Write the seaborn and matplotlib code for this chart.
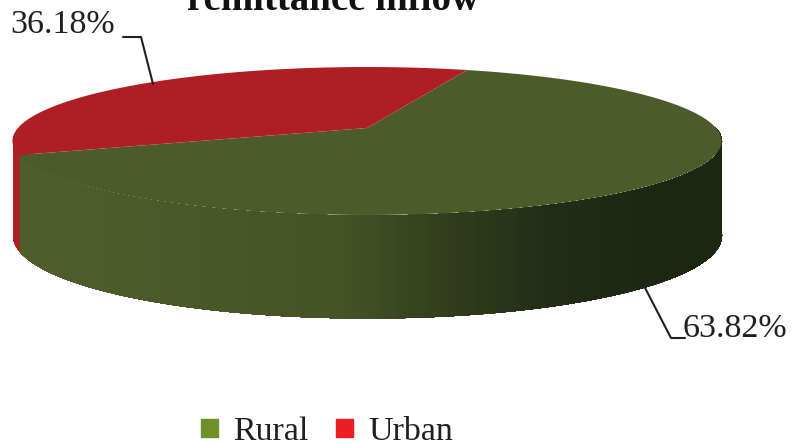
import numpy as np
import seaborn as sns
from matplotlib import pyplot as plt
from matplotlib.patches import Patch

categories = ['Rural', 'Urban']
shares = [63.82, 36.18]
share_labels = ['63.82%', '36.18%']
title = 'remittance inflow'

top_colors = ['#4B5C2A', '#AE1E24']
side_red = '#B01E26'
side_greens = ['#4D5E2B', '#4B5B2A', '#485727', '#445226', '#323C1C', '#222C16', '#1C2712']
legend_colors = ['#6F8F2A', '#EE1C25']

sns.set_theme(style='white')
plt.rcParams['font.family'] = ['Liberation Serif', 'DejaVu Serif']

# pie geometry on screen, pixels
CX, CY = 367, 141
AX_R = 349
K = 0.1757
B = 71.7
APEX = 13


def project(x, y):
    # perspective view of the flat unit pie
    w = 1 + K * y
    return CX + AX_R * x / w, CY - APEX - B * y / w


def wall(theta):
    # side wall between top rim and bottom rim
    t = np.radians(theta)
    x, y = project(np.cos(t), np.sin(t))
    return x, y, y + 92 - 11 * np.sin(t)


fig, ax = plt.subplots(figsize=(8, 4.44), dpi=100)
fig.subplots_adjust(left=0, right=1, bottom=0, top=1)

wedges, _ = ax.pie(shares, startangle=200.7, counterclock=True, colors=top_colors)

# side wall, only the front half shows
rural_start = wedges[0].theta1
green_ramp = sns.blend_palette(side_greens, n_colors=256)
for a in np.arange(172, 360, 1.0):
    x, y1, y2 = wall(np.linspace(a, 361, 120))
    if a < rural_start:
        col = side_red
    else:
        pos = (x[0] - 19) / 640
        col = green_ramp[int(np.clip(pos, 0, 1) * 255)]
    # each piece runs on to the end so no seams show
    ax.fill_between(x, y1, y2, color=col, lw=0, zorder=2)

# top face
for wedge, c in zip(wedges, top_colors):
    t = np.radians(np.linspace(wedge.theta1, wedge.theta2, 200))
    px, py = project(np.r_[0, np.cos(t)], np.r_[0, np.sin(t)])
    wedge.remove()
    ax.fill(px, py, color=c, lw=0, zorder=3)

# leader lines and labels
ax.plot([642, 671, 685], [282, 338, 338], color='#231F20', lw=1.5, zorder=4)
ax.plot([123, 141, 153], [37, 37, 84], color='#231F20', lw=1.5, zorder=4)
ax.text(682, 329, share_labels[0], fontsize=24.5, color='#231F20', ha='left', va='center')
ax.text(10, 25, share_labels[1], fontsize=24.5, color='#231F20', ha='left', va='center')

ax.text(187, 10, title, fontsize=28, fontweight='bold', color='#111111', ha='left', va='baseline')

handles = [Patch(color=c, label=n) for c, n in zip(legend_colors, categories)]
ax.legend(handles=handles, ncol=2, frameon=False, loc='center', bbox_to_anchor=(0.409, 0.027),
          bbox_transform=fig.transFigure, fontsize=24.5, handlelength=0.5, handleheight=0.45,
          handletextpad=0.45, columnspacing=0.8, labelcolor='#231F20')

ax.set_aspect('auto')
ax.set_xlim(0, 800)
ax.set_ylim(444, 0)
ax.axis('off')

fig.savefig('out.png', dpi=100)
